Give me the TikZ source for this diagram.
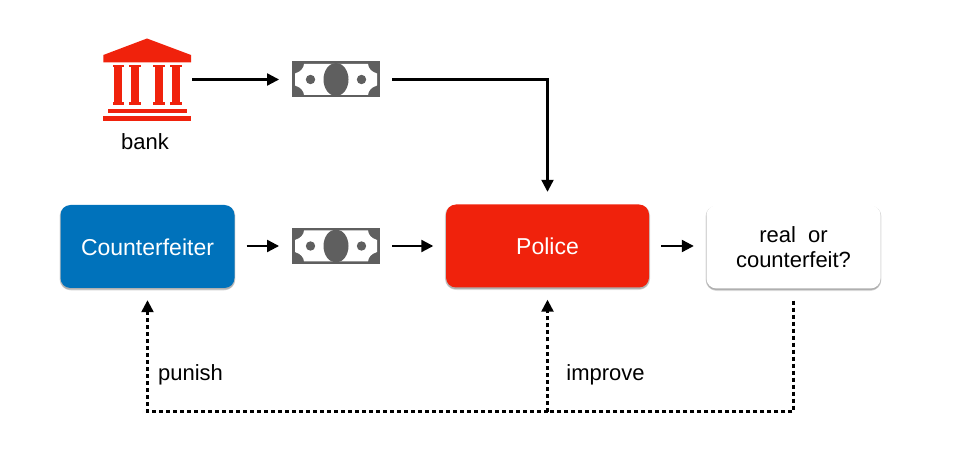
\documentclass[tikz,border=0pt]{standalone}
\usepackage{fontspec}
\setmainfont{Liberation Sans}
\usetikzlibrary{arrows.meta,shadows}
\definecolor{fakeblue}{HTML}{0072BB}
\definecolor{policered}{HTML}{F0220C}
\definecolor{billgray}{HTML}{5F5F5F}
\tikzset{
    softshadow/.style = {
        general shadow = {shadow xshift = 0pt, shadow yshift = -3pt, shadow scale = 0.99, opacity = 0.08, fill = black},
        general shadow = {shadow xshift = 0pt, shadow yshift = -2pt, shadow scale = 1.005, opacity = 0.12, fill = black},
        general shadow = {shadow xshift = 0pt, shadow yshift = -1pt, shadow scale = 1.01, opacity = 0.15, fill = black}},
    boxnode/.style = {softshadow, rounded corners = 10pt, minimum height = 83pt, inner sep = 0pt, align = center,
        font = \fontsize{23}{25}\selectfont},
    billnode/.style = {minimum width = 88.5pt, minimum height = 36pt, inner sep = 0pt, fill = billgray,
        path picture = {
            \begin{scope}[shift = {(path picture bounding box.center)}]
                \fill[white] (-41,-6) .. controls (-35,-8) and (-32.5,-11) .. (-32,-15.5) -- (32,-15.5)
                    .. controls (32.5,-11) and (35,-8) .. (41,-6) -- (41,6)
                    .. controls (35,8) and (32.5,11) .. (32,15.5) -- (-32,15.5)
                    .. controls (-32.5,11) and (-35,8) .. (-41,6) -- cycle;
                \fill[billgray] (0,0) ellipse[x radius = 12.5, y radius = 16.5];
                \fill[billgray] (-25.5,0) circle[radius = 4.7];
                \fill[billgray] (25.5,0) circle[radius = 4.7];
            \end{scope}
        }},
    textnode/.style = {inner sep = 0pt, font = \fontsize{22}{25}\selectfont},
    flow/.style = {line width = 2.2pt, -{Triangle[length = 12pt, width = 12pt]}, shorten > = 12.5pt, shorten < = 12pt},
    feedback/.style = {line width = 2.4pt, dash pattern = on 4pt off 3pt},
}
\begin{document}
\begin{tikzpicture}[x = 1pt, y = -1pt]
    \useasboundingbox (0,0) rectangle (954,465);
    % bank icon
    \node[minimum width = 88pt, minimum height = 83pt, inner sep = 0pt] (bank) at (147,79.5) {};
    \begin{scope}[fill = policered]
        \fill (147,38.5) -- (191,55) -- (191,62.5) -- (103.3,62.5) -- (103.3,55) -- cycle;
        \foreach \colx in {118.3,135,159,175.7} {
            \fill (\colx-4,65) rectangle (\colx+4,105);
            \fill (\colx-5.8,65) rectangle (\colx+5.8,67.5);
            \fill (\colx-5.8,102.5) rectangle (\colx+5.8,105);
        }
        \fill (107.7,108.7) rectangle (186.7,113.3);
        \fill (103.3,116.3) rectangle (191,121);
    \end{scope}
    \node[textnode] (banklabel) at (145,141.5) {bank};
    % bills
    \node[billnode] (billtop) at (336,79.5) {};
    \node[billnode] (billmid) at (336,246) {};
    % boxes
    \node[boxnode, fill = fakeblue, text = white, minimum width = 174pt, text height = 18pt, text depth = 0pt] (counterfeiter) at (147.5,246.5) {Counterfeiter};
    \node[boxnode, fill = policered, text = white, minimum width = 203pt, text height = 18pt, text depth = 0pt] (police) at (547.5,246) {Police};
    \node[boxnode, fill = white, minimum width = 174pt, font = \fontsize{22}{25}\selectfont] (verdict) at (793.5,247) {real\ \ or\\counterfeit?};
    % solid arrows
    \draw[flow, shorten < = 1pt] (bank.east) -- (billtop.west);
    \draw[flow] (billtop.east) -| (police.north);
    \draw[flow] (counterfeiter.east |- billmid.west) -- (billmid.west);
    \draw[flow] (billmid.east) -- (police.west);
    \draw[flow] (police.east) -- (verdict.west |- police.east);
    % dashed feedback
    \coordinate (corner) at (793.5,411.5);
    \coordinate (junction) at (547.5,411.5);
    \draw[feedback, shorten < = 12pt] (verdict.south) -- (corner) -- (junction);
    \draw[feedback, -{Triangle[length = 12pt, width = 12pt]}, shorten > = 12pt] (junction) -- (police.south);
    \draw[feedback, -{Triangle[length = 12pt, width = 12pt]}, shorten > = 12pt] (junction) -| (counterfeiter.south);
    % labels
    \node[textnode] (punishlabel) at (190.5,374.5) {punish};
    \node[textnode] (improvelabel) at (605.5,374.5) {improve};
\end{tikzpicture}
\end{document}
